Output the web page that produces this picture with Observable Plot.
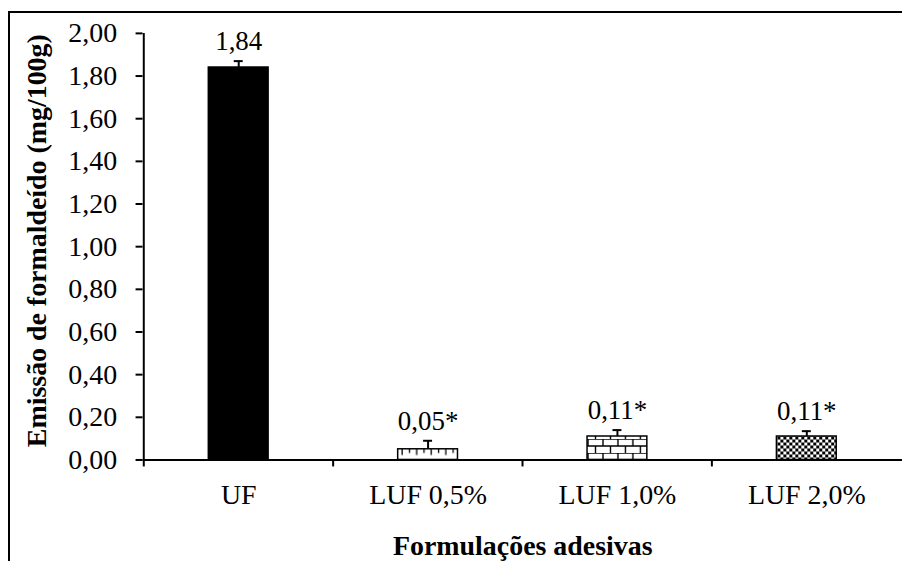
<!DOCTYPE html>
<html>
<head>
<meta charset="utf-8">
<script src="https://cdn.jsdelivr.net/npm/d3@7"></script>
<script src="https://cdn.jsdelivr.net/npm/@observablehq/plot@0.6"></script>
<style>
  html, body { margin: 0; padding: 0; background: #fff; overflow: hidden; }
  #wrap { position: relative; width: 902px; height: 561px; overflow: hidden; background: #fff; }
  #frame { position: absolute; left: 8px; top: 11px; width: 1000px; height: 1000px;
           border-top: 2px solid #000; border-left: 2px solid #000; box-sizing: border-box; }
  #chart { position: absolute; left: 0; top: 0; }
</style>
</head>
<body>
<div id="wrap"><div id="frame"></div><div id="chart"></div></div>
<script>
// ---- data ----
const categories = ["UF", "LUF 0,5%", "LUF 1,0%", "LUF 2,0%"];
const values = [1.84, 0.05, 0.11, 0.11];
const errors = [0.03, 0.04, 0.03, 0.025];
const significance = ["", "*", "*", "*"];
const yTicks = [0, 0.2, 0.4, 0.6, 0.8, 1.0, 1.2, 1.4, 1.6, 1.8, 2.0];
const yTitle = "Emissão de formaldeído (mg/100g)";
const xTitle = "Formulações adesivas";

const data = categories.map((c, i) => ({cat: c, value: values[i], err: errors[i], sig: significance[i]}));

// ---- styles ----
const fillFor = {"UF": "#000", "LUF 0,5%": "url(#pat-ruler)", "LUF 1,0%": "url(#pat-brick)", "LUF 2,0%": "url(#pat-check)"};
const fmt = v => v.toFixed(2).replace(".", ",");
const FONT = "'Liberation Serif', 'Times New Roman', Times, serif";
const halfStep = 190.5 / 2;

const chart = Plot.plot({
  width: 905,
  height: 561,
  marginLeft: 143,
  marginRight: 0,
  marginTop: 33,
  marginBottom: 100,
  style: {fontFamily: FONT, fontSize: "28px", color: "#000", background: "transparent", overflow: "visible"},
  x: {domain: categories, padding: 0, label: null},
  y: {domain: [0, 2], label: null},
  color: {type: "identity"},
  marks: [
    Plot.barY(data, {x: "cat", y: "value", fill: d => fillFor[d.cat], stroke: "#000", strokeWidth: 1.5, insetLeft: 65, insetRight: 65}),
    Plot.ruleX(data, {x: "cat", y1: "value", y2: d => d.value + d.err, stroke: "#000", strokeWidth: 2}),
    Plot.tickY(data, {x: "cat", y: d => d.value + d.err, stroke: "#000", strokeWidth: 2, insetLeft: 90.5, insetRight: 90.5}),
    Plot.text(data, {x: "cat", y: d => d.value + d.err, text: d => fmt(d.value) + d.sig, lineAnchor: "bottom", dy: -11, fontSize: 27, fill: "#000"}),
    Plot.axisY({ticks: yTicks, tickFormat: fmt, tickSize: 7, tickPadding: 19, strokeWidth: 2, label: null, fontSize: 28}),
    Plot.axisX({tickSize: 0, tickPadding: 24, label: null, fontSize: 28}),
    Plot.axisX({tickSize: 7, tickFormat: () => "", strokeWidth: 2, dx: -halfStep, label: null}),
    Plot.ruleY([0], {stroke: "#000", strokeWidth: 2}),
    Plot.ruleX([categories[0]], {x: d => d, y1: 0, y2: 2, dx: -halfStep, stroke: "#000", strokeWidth: 2}),
    Plot.text([yTitle], {frameAnchor: "left", rotate: -90, dx: -117, dy: -6, textAnchor: "middle", lineAnchor: "top", fontWeight: "bold", fontSize: 28, fill: "#000"}),
    Plot.text([xTitle], {frameAnchor: "bottom", dy: 75, textAnchor: "middle", lineAnchor: "top", fontWeight: "bold", fontSize: 28, fill: "#000"})
  ]
});

// pattern definitions
const svg = d3.select(chart);
const defs = svg.insert("defs", ":first-child");
const ruler = defs.append("pattern").attr("id", "pat-ruler").attr("patternUnits", "userSpaceOnUse")
  .attr("x", 398.5).attr("y", 450).attr("width", 14.6).attr("height", 40);
ruler.append("rect").attr("width", 14.6).attr("height", 40).attr("fill", "#fff");
ruler.append("path").attr("d", "M5,0V6.5 M12.3,0V4.5").attr("stroke", "#000").attr("stroke-width", 1.3);

const brick = defs.append("pattern").attr("id", "pat-brick").attr("patternUnits", "userSpaceOnUse")
  .attr("x", 589).attr("y", 440.5).attr("width", 15).attr("height", 14);
brick.append("rect").attr("width", 15).attr("height", 14).attr("fill", "#fff");
brick.append("path").attr("d", "M0,0H15 M0,7H15 M1,0V7 M8.5,7V14").attr("stroke", "#000").attr("stroke-width", 1.4);

const check = defs.append("pattern").attr("id", "pat-check").attr("patternUnits", "userSpaceOnUse")
  .attr("x", 0).attr("y", 0).attr("width", 6).attr("height", 6);
check.append("rect").attr("width", 6).attr("height", 6).attr("fill", "#fff");
check.append("rect").attr("width", 3).attr("height", 3).attr("fill", "#000");
check.append("rect").attr("x", 3).attr("y", 3).attr("width", 3).attr("height", 3).attr("fill", "#000");

document.getElementById("chart").appendChild(chart);
</script>
</body>
</html>
